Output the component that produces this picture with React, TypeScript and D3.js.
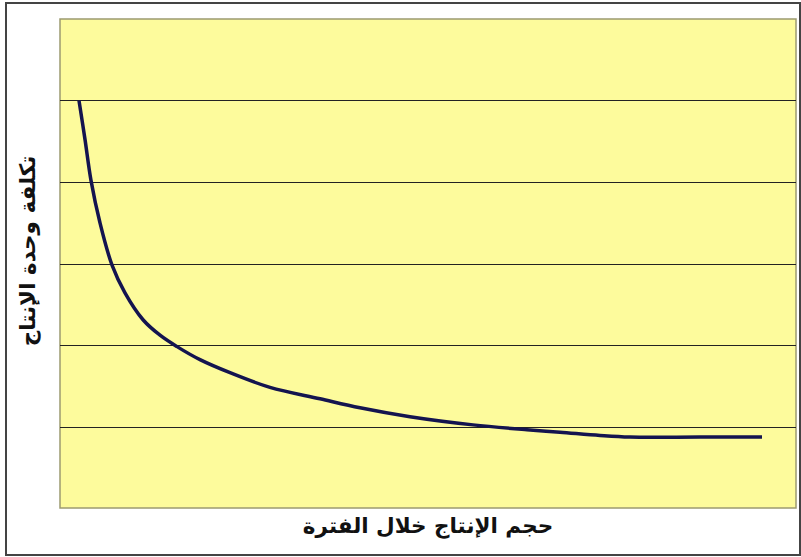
import React from "react";
import * as d3 from "d3";

const xValues = [2.58, 3.4, 4.21, 5.43, 7.07, 8.83, 11.28, 13.59, 15.9, 19.02, 23.1, 28.53, 35.33, 40.76, 47.55, 56.11, 63.45, 67.93, 73.37, 77.45, 86.96, 95.38];
const costValues = [5.0, 4.52, 4.02, 3.5, 2.98, 2.64, 2.31, 2.12, 1.98, 1.82, 1.66, 1.48, 1.34, 1.23, 1.12, 1.02, 0.96, 0.93, 0.89, 0.87, 0.87, 0.87];
const gridValues = [1, 2, 3, 4, 5];
const xTitle = "حجم الإنتاج خلال الفترة";
const yTitle = "تكلفة وحدة الإنتاج";

export default function App() {
  const W = 801, H = 557;
  const plot = { left: 60, top: 19, right: 796, bottom: 508 };
  const x = d3.scaleLinear().domain([0, 100]).range([plot.left, plot.right]);
  const y = d3.scaleLinear().domain([0, 6]).range([plot.bottom, plot.top]);
  const data = xValues.map((v, i) => [v, costValues[i]] as [number, number]);
  const line = d3.line<[number, number]>().x(d => x(d[0])).y(d => y(d[1])).curve(d3.curveCatmullRom.alpha(0.5));
  const font = "'DejaVu Sans', Arial, sans-serif";
  return (
    <svg width={W} height={H} style={{ position: "absolute", left: 0, top: 0, display: "block" }}>
      <rect x={0} y={0} width={W} height={H} fill="#ffffff" />
      <rect x={6} y={3} width={794} height={552} fill="#ffffff" stroke="#444" strokeWidth={2} />
      <rect x={plot.left} y={plot.top} width={plot.right - plot.left} height={plot.bottom - plot.top} fill="#fdfb9c" stroke="#9c9a70" strokeWidth={1.5} />
      {gridValues.map(g => (
        <line key={g} x1={plot.left} x2={plot.right} y1={Math.round(y(g)) + 0.5} y2={Math.round(y(g)) + 0.5} stroke="#222" strokeWidth={1.2} />
      ))}
      <path d={line(data) || ""} fill="none" stroke="#14144f" strokeWidth={3.5} strokeLinejoin="round" />
      <text x={(plot.left + plot.right) / 2} y={533} textAnchor="middle" fontFamily={font} fontWeight="bold" fontSize={21.5} fill="#111" direction="rtl">{xTitle}</text>
      <text transform={`translate(35, 251) rotate(-90)`} textAnchor="middle" fontFamily={font} fontWeight="bold" fontSize={21.5} fill="#111" direction="rtl">{yTitle}</text>
    </svg>
  );
}
